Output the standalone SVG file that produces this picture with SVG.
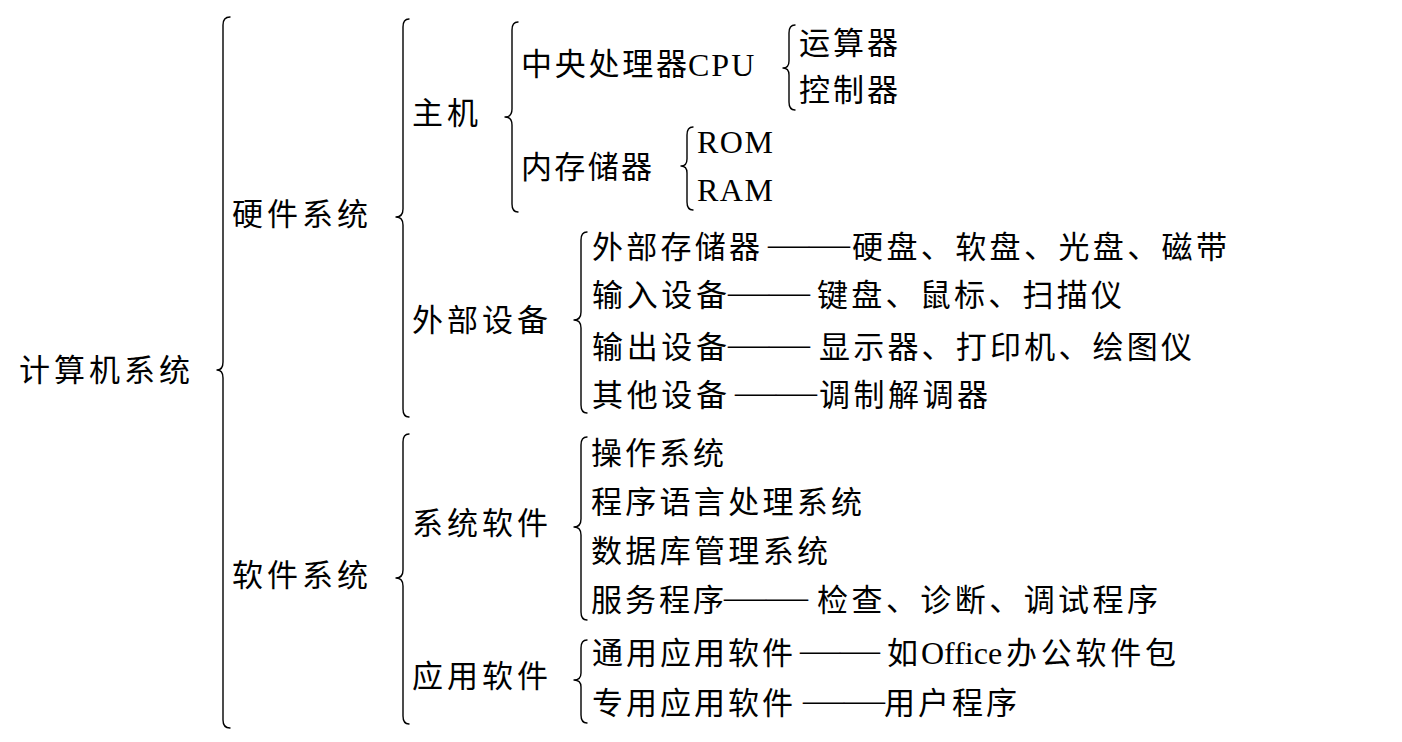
<svg xmlns="http://www.w3.org/2000/svg" width="1402" height="742" viewBox="0 0 1402 742">
<style>
.t{font-family:"Liberation Serif","Noto Sans CJK SC",serif;font-size:31px;fill:#000}
.l{font-family:"Liberation Serif","Noto Sans CJK SC",serif;font-size:32px;fill:#000}
.d{font-family:"Liberation Serif",serif;font-size:32px;fill:#000}
.b{fill:none;stroke:#000;stroke-width:1.4;stroke-linecap:round;stroke-linejoin:round}
</style>
<rect width="1402" height="742" fill="#fff"/>
<g id="connectors">
<path class="b" d="M230,17 C225,17 223,20 223,25 L223,362 C223,367 221,370 217,370 C221,370 223,373 223,378 L223,720 C223,725 225,728 230,728"/>
<path class="b" d="M409,19 C405,19 403,22 403,27 L403,209 C403,214 401,217 396,217 C401,217 403,220 403,225 L403,409 C403,414 405,417 409,417"/>
<path class="b" d="M409,434 C405,434 403,437 403,442 L403,570 C403,575 401,578 396,578 C401,578 403,581 403,586 L403,716 C403,721 405,724 409,724"/>
<path class="b" d="M518,22 C514,22 512,25 512,30 L512,109 C512,114 510,117 505,117 C510,117 512,120 512,125 L512,204 C512,209 514,212 518,212"/>
<path class="b" d="M795,25 C791,25 789,28 789,33 L789,61 C789,66 787,68 783,68 C787,68 789,70 789,75 L789,102 C789,107 791,110 795,110"/>
<path class="b" d="M693,127 C689,127 687,130 687,135 L687,159 C687,164 685,166 681,166 C685,166 687,168 687,173 L687,202 C687,207 689,210 693,210"/>
<path class="b" d="M587,232 C583,232 581,235 581,240 L581,312 C581,317 579,320 574,320 C579,320 581,323 581,328 L581,405 C581,410 583,413 587,413"/>
<path class="b" d="M587,437 C583,437 581,440 581,445 L581,519 C581,524 579,527 574,527 C579,527 581,530 581,535 L581,612 C581,617 583,620 587,620"/>
<path class="b" d="M587,640 C583,640 581,643 581,648 L581,673 C581,678 579,680 574,680 C579,680 581,682 581,687 L581,715 C581,720 583,723 587,723"/>
</g>
<g id="n-computer"><text class="t" x="19" y="381" textLength="171" lengthAdjust="spacing">计算机系统</text></g>
<g id="n-hardware"><text class="t" x="232" y="225" textLength="136" lengthAdjust="spacing">硬件系统</text></g>
<g id="n-software"><text class="t" x="232" y="586" textLength="136" lengthAdjust="spacing">软件系统</text></g>
<g id="n-host"><text class="t" x="412" y="124" textLength="66" lengthAdjust="spacing">主机</text></g>
<g id="n-peripheral"><text class="t" x="412" y="331" textLength="136" lengthAdjust="spacing">外部设备</text></g>
<g id="n-syssoft"><text class="t" x="412" y="534" textLength="136" lengthAdjust="spacing">系统软件</text></g>
<g id="n-appsoft"><text class="t" x="412" y="687" textLength="136" lengthAdjust="spacing">应用软件</text></g>
<g id="n-cpu"><text class="t" x="521" y="75" textLength="166" lengthAdjust="spacing">中央处理器</text><text class="l" x="688" y="76" letter-spacing="2">CPU</text></g>
<g id="n-alu"><text class="t" x="799" y="54" textLength="99" lengthAdjust="spacing">运算器</text></g>
<g id="n-ctrl"><text class="t" x="799" y="101" textLength="99" lengthAdjust="spacing">控制器</text></g>
<g id="n-mem"><text class="t" x="521" y="178" textLength="131" lengthAdjust="spacing">内存储器</text></g>
<g id="n-rom"><text class="l" x="697" y="153" letter-spacing="1.5">ROM</text></g>
<g id="n-ram"><text class="l" x="697" y="201" letter-spacing="1.5">RAM</text></g>
<g id="n-ext">
<text class="t" x="592" y="258" textLength="168" lengthAdjust="spacing">外部存储器</text>
<text class="d" x="768" y="255" textLength="82" lengthAdjust="spacingAndGlyphs">——</text>
<text class="t" x="852" y="258" textLength="375" lengthAdjust="spacing">硬盘、软盘、光盘、磁带</text>
</g>
<g id="n-input">
<text class="t" x="592" y="306" textLength="135" lengthAdjust="spacing">输入设备</text>
<text class="d" x="728" y="303" textLength="82" lengthAdjust="spacingAndGlyphs">——</text>
<text class="t" x="817" y="306" textLength="305" lengthAdjust="spacing">键盘、鼠标、扫描仪</text>
</g>
<g id="n-output">
<text class="t" x="592" y="358" textLength="135" lengthAdjust="spacing">输出设备</text>
<text class="d" x="728" y="355" textLength="82" lengthAdjust="spacingAndGlyphs">——</text>
<text class="t" x="819" y="358" textLength="373" lengthAdjust="spacing">显示器、打印机、绘图仪</text>
</g>
<g id="n-other">
<text class="t" x="592" y="406" textLength="135" lengthAdjust="spacing">其他设备</text>
<text class="d" x="735" y="403" textLength="82" lengthAdjust="spacingAndGlyphs">——</text>
<text class="t" x="819" y="406" textLength="169" lengthAdjust="spacing">调制解调器</text>
</g>
<g id="n-os"><text class="t" x="591" y="464" textLength="133" lengthAdjust="spacing">操作系统</text></g>
<g id="n-lang"><text class="t" x="591" y="513" textLength="271" lengthAdjust="spacing">程序语言处理系统</text></g>
<g id="n-db"><text class="t" x="591" y="562" textLength="237" lengthAdjust="spacing">数据库管理系统</text></g>
<g id="n-service">
<text class="t" x="591" y="611" textLength="133" lengthAdjust="spacing">服务程序</text>
<text class="d" x="724" y="608" textLength="84" lengthAdjust="spacingAndGlyphs">——</text>
<text class="t" x="817" y="611" textLength="341" lengthAdjust="spacing">检查、诊断、调试程序</text>
</g>
<g id="n-general">
<text class="t" x="592" y="664" textLength="201" lengthAdjust="spacing">通用应用软件</text>
<text class="d" x="800" y="661" textLength="80" lengthAdjust="spacingAndGlyphs">——</text>
<text class="t" x="887" y="664">如</text>
<text class="l" x="921" y="664">Office</text>
<text class="t" x="1006" y="664" textLength="170" lengthAdjust="spacing">办公软件包</text>
</g>
<g id="n-special">
<text class="t" x="592" y="714" textLength="201" lengthAdjust="spacing">专用应用软件</text>
<text class="d" x="803" y="711" textLength="82" lengthAdjust="spacingAndGlyphs">——</text>
<text class="t" x="884" y="714" textLength="133" lengthAdjust="spacing">用户程序</text>
</g>
</svg>
